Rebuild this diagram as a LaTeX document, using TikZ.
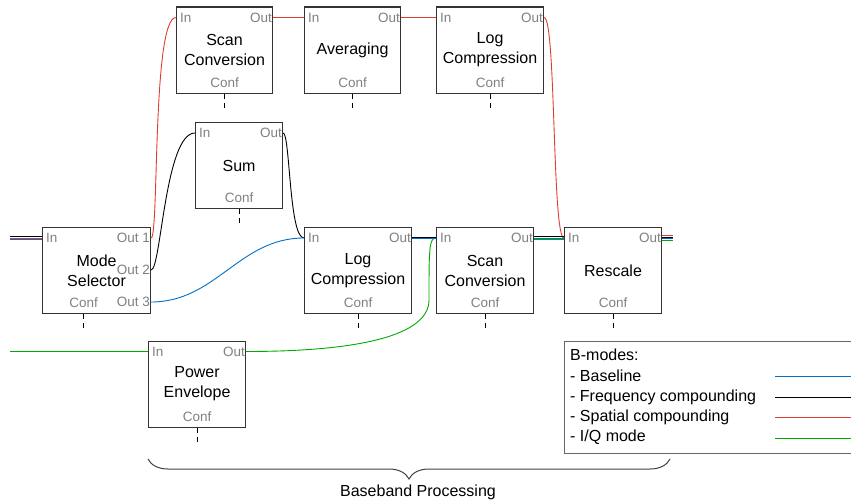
\documentclass[tikz,border=0pt]{standalone}
\usepackage{fontspec}
\setmainfont{Liberation Sans}
\usetikzlibrary{decorations.pathreplacing}

\definecolor{bmblue}{RGB}{0,112,200}
\definecolor{bmred}{RGB}{225,60,50}
\definecolor{bmgreen}{RGB}{0,170,0}

\tikzset{
  block/.style={draw=black!80, line width=1.1pt, fill=white, minimum height=86pt,
    inner sep=0pt, align=center, anchor=north west, font=\fontsize{16}{20}\selectfont},
  port/.style={text=black!50, inner sep=1pt, font=\fontsize{13.5}{14}\selectfont},
  conf/.style={line width=1pt, dash pattern=on 5pt off 4pt},
  wire/.style={line width=0.9pt},
}

\begin{document}
\begin{tikzpicture}[x=1pt, y=-1pt]
        \useasboundingbox (0,0) rectangle (851,503);

        % processing blocks
        \node[block, minimum width=108pt] (modesel) at (42,227) {Mode\\Selector};
        \node[block, minimum width=96pt] (scanA) at (176,6.5) {Scan\\Conversion};
        \node[block, minimum width=96pt] (avg) at (304,6.5) {Averaging};
        \node[block, minimum width=107pt] (logA) at (436,6.5) {Log\\Compression};
        \node[block, minimum width=87pt] (sum) at (195,122) {Sum};
        \node[block, minimum width=107pt] (logB) at (304,227) {Log\\Compression};
        \node[block, minimum width=97pt] (scanB) at (436,227) {Scan\\Conversion};
        \node[block, minimum width=97pt] (rescale) at (564,227) {Rescale};
        \node[block, minimum width=97pt] (powenv) at (148,340.5) {Power\\Envelope};

        % ports
        \foreach \b in {scanA,avg,logA,sum,logB,scanB,rescale,powenv}{
          \node[port, anchor=west] (\b-in) at ([xshift=3pt,yshift=-11pt]\b.north west) {In};
          \node[port, anchor=east] (\b-out) at ([yshift=-11pt]\b.north east) {Out};
          \node[port] (\b-conf) at ([yshift=11pt]\b.south) {Conf};
          \draw[conf] (\b.south) -- ++(0,17);
        }
        \node[port, anchor=west] (modesel-in) at ([xshift=3pt,yshift=-11pt]modesel.north west) {In};
        \node[port, anchor=east] (modesel-o1) at ([yshift=-11pt]modesel.north east) {Out 1};
        \node[port, anchor=east] (modesel-o2) at ([yshift=-43pt]modesel.north east) {Out 2};
        \node[port, anchor=east] (modesel-o3) at ([yshift=-75pt]modesel.north east) {Out 3};
        \node[port] (modesel-conf) at ([xshift=-13pt,yshift=11pt]modesel.south) {Conf};
        \draw[conf] (modesel-conf |- modesel.south) -- ++(0,17);

        % free ends
        \coordinate (bm-src) at (10,238);
        \coordinate (iq-src) at (10,351.5);
        \coordinate (bm-dst) at (673,238);
        \coordinate (iq-bend) at (429,300);

        % signal paths
        \foreach \s/\c in {1.5pt/black, 0pt/bmred, -1.5pt/bmblue}
          \draw[wire, \c, transform canvas={yshift=\s}] (bm-src) -- (modesel-in -| modesel.west);
        \draw[wire, bmred] (modesel-o1 -| modesel.east) .. controls +(8,0) and +(-24,0) .. (scanA-in -| scanA.west);
        \draw[wire, bmred] (scanA-out -| scanA.east) -- (avg-in -| avg.west);
        \draw[wire, bmred] (avg-out -| avg.east) -- (logA-in -| logA.west);
        \draw[wire, bmred] (logA-out -| logA.east) .. controls +(12,0) and +(-12,0) .. (rescale-in -| rescale.west);
        \draw[wire] (modesel-o2 -| modesel.east) .. controls +(10,0) and +(-30,0) .. (sum-in -| sum.west);
        \draw[wire] (sum-out -| sum.east) .. controls +(7,0) and +(-15,0) .. (logB-in -| logB.west);
        \draw[wire, bmblue] (modesel-o3 -| modesel.east) .. controls +(65,0) and +(-65,0) .. (logB-in -| logB.west);
        \draw[wire, bmgreen] (iq-src) -- (powenv-in -| powenv.west);
        \draw[wire, bmgreen] (powenv-out -| powenv.east) .. controls +(95,0) and +(0,40) .. (iq-bend)
              .. controls +(0,-50) and +(-7,0) .. (scanB-in -| scanB.west);
        \foreach \s/\c in {0.75pt/black, -0.75pt/bmblue}
          \draw[wire, \c, transform canvas={yshift=\s}] (logB-out -| logB.east) -- (scanB-in -| scanB.west);
        \foreach \s/\c in {1.5pt/black, 0pt/bmblue, -1.5pt/bmgreen}
          \draw[wire, \c, transform canvas={yshift=\s}] (scanB-out -| scanB.east) -- (rescale-in -| rescale.west);
        \foreach \s/\c in {2.25pt/bmred, 0.75pt/black, -0.75pt/bmblue, -2.25pt/bmgreen}
          \draw[wire, \c, transform canvas={yshift=\s}] (rescale-out -| rescale.east) -- (bm-dst);

        % legend
        \node[draw=black!60, line width=1.1pt, fill=white, anchor=north west, minimum width=289pt,
              minimum height=112pt] (legend) at (564,341) {};
        \node[anchor=north west, align=left, inner sep=0pt, font=\fontsize{16}{20.3}\selectfont]
              (legend-text) at (570,349) {B-modes:\\- Baseline\\- Frequency compounding\\- Spatial compounding\\- I/Q mode};
        \foreach \y/\c in {376.5/bmblue, 397.5/black, 417.5/bmred, 438.5/bmgreen}
          \draw[wire, \c] (775,\y) -- (853,\y);

        % baseband brace
        \draw[black!75, line width=1pt, decorate, decoration={brace, mirror, amplitude=20pt}] (148,459) -- (670,459);
        \node[font=\fontsize{16}{20}\selectfont] (baseband) at (418,492) {Baseband Processing};
\end{tikzpicture}
\end{document}
